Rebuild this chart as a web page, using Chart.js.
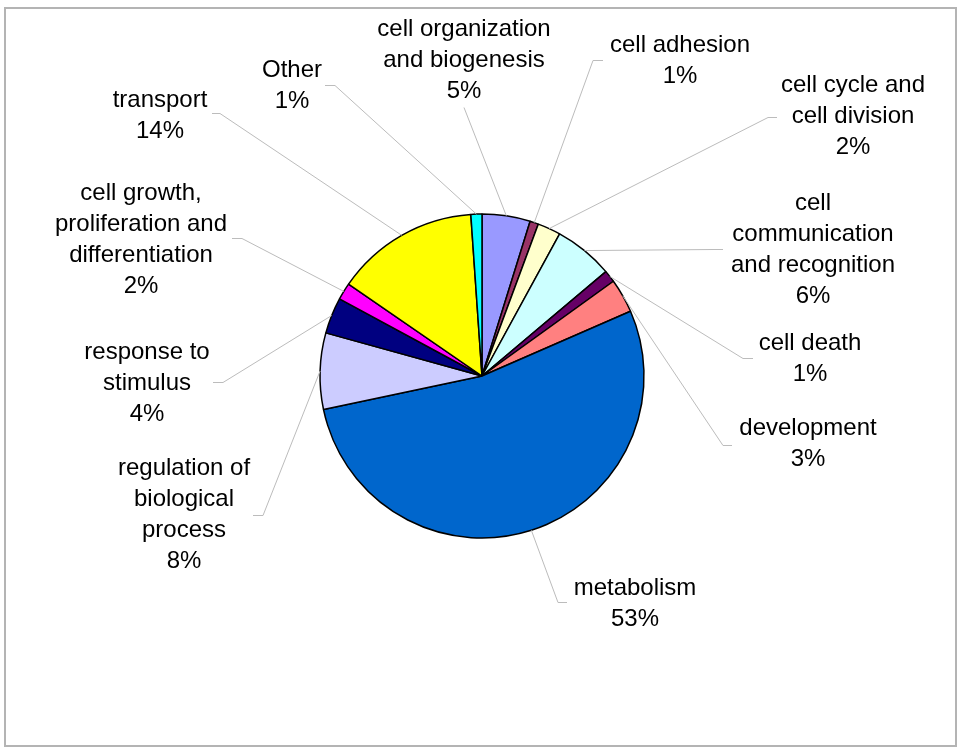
<!DOCTYPE html>
<html>
<head>
<meta charset="utf-8">
<script src="https://cdn.jsdelivr.net/npm/chart.js@4.4.0/dist/chart.umd.min.js"></script>
<style>
  body { margin: 0; background: #fff; }
  canvas { display: block; }
</style>
</head>
<body>
<canvas id="pie" width="964" height="749"></canvas>
<script>
// categories, clockwise from 12 o'clock
const categories = [
  'cell organization\nand biogenesis',
  'cell adhesion',
  'cell cycle and\ncell division',
  'cell\ncommunication\nand recognition',
  'cell death',
  'development',
  'metabolism',
  'regulation of\nbiological\nprocess',
  'response to\nstimulus',
  'cell growth,\nproliferation and\ndifferentiation',
  'transport',
  'Other'
];
// share of genes (%)
const shares = [4.8, 0.85, 2.3, 5.9, 1.2, 3.4, 53.2, 7.6, 3.6, 1.7, 14.3, 1.1];
const colors = ['#9999FF', '#993366', '#FFFFCC', '#CCFFFF', '#660066', '#FF8080',
                '#0066CC', '#CCCCFF', '#000080', '#FF00FF', '#FFFF00', '#00FFFF'];

// label layout: [centre x, first line y]
const labelPos = [
  [464, 29], [680, 45], [853, 85], [813, 203], [810, 343], [808, 428],
  [635, 588], [184, 468], [147, 352], [141, 193], [160, 100], [292, 70]
];
// leader line elbow: [x, y, stub length toward pie]
const elbows = [
  [464, 107, 0], [603, 60, -10], [777, 117, -9], [723, 249, -10], [753, 358, -10], [732, 445, -9],
  [567, 602, -9], [253, 515, 10], [213, 382, 10], [232, 238, 10], [212, 113, 8], [325, 85, 10]
];

const lineH = 31;

const labelPlugin = {
  id: 'labels',
  beforeDraw(chart) {
    const c = chart.ctx;
    c.save();
    c.fillStyle = '#fff';
    c.fillRect(0, 0, chart.width, chart.height);
    c.strokeStyle = '#b4b4b4';
    c.lineWidth = 2;
    c.strokeRect(5, 8, 951, 738);
    c.restore();
  },
  afterDraw(chart) {
    const c = chart.ctx;
    const meta = chart.getDatasetMeta(0);
    const total = shares.reduce((a, b) => a + b, 0);
    c.save();
    // leader lines
    c.strokeStyle = '#bcbcbc';
    c.lineWidth = 1;
    meta.data.forEach((arc, i) => {
      const p = arc.getProps(['x', 'y', 'startAngle', 'endAngle', 'outerRadius'], true);
      const mid = (p.startAngle + p.endAngle) / 2;
      const ax = p.x + Math.cos(mid) * p.outerRadius;
      const ay = p.y + Math.sin(mid) * p.outerRadius;
      const e = elbows[i];
      c.beginPath();
      c.moveTo(e[0], e[1] + 0.5);
      c.lineTo(e[0] + e[2], e[1] + 0.5);
      c.lineTo(ax, ay);
      c.stroke();
    });
    // labels
    c.fillStyle = '#000';
    c.font = '24px "Liberation Sans", Arial, sans-serif';
    c.textAlign = 'center';
    c.textBaseline = 'middle';
    categories.forEach((name, i) => {
      const lines = name.split('\n');
      lines.push(Math.round(shares[i] / total * 100) + '%');
      lines.forEach((t, k) => {
        c.fillText(t, labelPos[i][0], labelPos[i][1] + k * lineH);
      });
    });
    c.restore();
  }
};

new Chart(document.getElementById('pie'), {
  type: 'pie',
  data: {
    labels: categories,
    datasets: [{
      data: shares,
      backgroundColor: colors,
      borderColor: '#000',
      borderWidth: 1.5
    }]
  },
  options: {
    responsive: false,
    animation: false,
    radius: 162,
    layout: { padding: { top: 3, bottom: 0, left: 0, right: 0 } },
    plugins: {
      legend: { display: false },
      tooltip: { enabled: false }
    }
  },
  plugins: [labelPlugin]
});
</script>
</body>
</html>
